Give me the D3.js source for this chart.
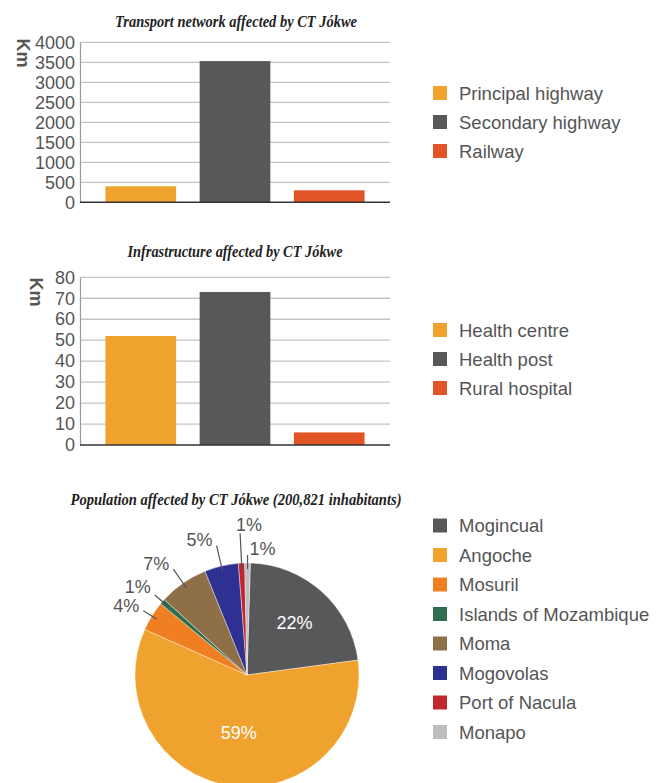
<!DOCTYPE html>
<html>
<head>
<meta charset="utf-8">
<script src="https://cdn.jsdelivr.net/npm/d3@7"></script>
<style>
  html, body { margin: 0; padding: 0; background: #fff; }
  svg { display: block; }
  text { font-family: "Liberation Sans", Arial, sans-serif; }
  .title { font-family: "Liberation Serif", "Times New Roman", serif; font-style: italic; font-weight: bold; fill: #222; }
</style>
</head>
<body>
<svg id="chart" width="666" height="783"></svg>
<script>
// ---------- DATA ----------
const transportCategories = ["Principal highway", "Secondary highway", "Railway"];
const transportValues = [400, 3530, 300];
const transportTicks = [0, 500, 1000, 1500, 2000, 2500, 3000, 3500, 4000];

const infraCategories = ["Health centre", "Health post", "Rural hospital"];
const infraValues = [52, 73, 6];
const infraTicks = [0, 10, 20, 30, 40, 50, 60, 70, 80];

const barColors = ["#f0a22e", "#58585a", "#e05426"];

const districts = ["Mogincual", "Angoche", "Mosuril", "Islands of Mozambique", "Moma", "Mogovolas", "Port of Nacula", "Monapo"];
const districtShares = [22.4, 58.8, 4.3, 0.8, 7.1, 4.9, 0.9, 0.8];
const districtColors = ["#58585a", "#f0a22e", "#f07f22", "#2f6e4c", "#8f6f47", "#2e3192", "#c1272d", "#bcbec0"];

const titles = [
  "Transport network affected by CT Jókwe",
  "Infrastructure affected by CT Jókwe",
  "Population affected by CT Jókwe (200,821 inhabitants)"
];
const yAxisLabel = "Km";

// ---------- DRAW ----------
const svg = d3.select("#chart");
const textGrey = "#555";

function title(txt, cx, y, len) {
  svg.append("text").attr("class", "title")
    .attr("x", cx).attr("y", y).attr("text-anchor", "middle")
    .attr("font-size", 17)
    .attr("textLength", len).attr("lengthAdjust", "spacingAndGlyphs")
    .text(txt);
}

function barChart(opts) {
  const x = d3.scaleBand().domain(opts.categories).range([80, 390])
    .paddingInner(0.25).paddingOuter(0.27);
  const y = d3.scaleLinear().domain([0, opts.ticks[opts.ticks.length - 1]]).range([opts.bottom, opts.top]);
  const g = svg.append("g");

  // gridlines
  g.selectAll("line.grid").data(opts.ticks.slice(1)).join("line")
    .attr("x1", 80).attr("x2", 390)
    .attr("y1", d => y(d)).attr("y2", d => y(d))
    .attr("stroke", "#c4c4c4").attr("stroke-width", 1.3);

  // y axis
  const ax = g.append("g").attr("transform", "translate(80,0)")
    .call(d3.axisLeft(y).tickValues(opts.ticks).tickSize(0).tickPadding(5).tickFormat(d3.format("d")));
  ax.select(".domain").attr("stroke", "#9a9a9a").attr("stroke-width", 1.2);
  ax.selectAll("text").attr("font-size", 18).attr("fill", textGrey)
    .attr("font-family", "Liberation Sans, Arial, sans-serif");

  // bars
  g.selectAll("rect.bar").data(opts.values).join("rect")
    .attr("x", (d, i) => x(opts.categories[i]))
    .attr("width", x.bandwidth())
    .attr("y", d => y(d))
    .attr("height", d => y(0) - y(d))
    .attr("fill", (d, i) => barColors[i]);

  // baseline
  g.append("line").attr("x1", 80).attr("x2", 390)
    .attr("y1", y(0)).attr("y2", y(0))
    .attr("stroke", "#333").attr("stroke-width", 1.6);

  // Km label
  g.append("text")
    .attr("transform", `translate(${opts.kmX},${opts.kmY}) rotate(90)`)
    .attr("text-anchor", "middle")
    .attr("font-size", 18).attr("font-weight", "bold").attr("fill", textGrey)
    .text(yAxisLabel);

  // legend
  const lg = g.selectAll("g.leg").data(opts.categories).join("g")
    .attr("transform", (d, i) => `translate(433,${opts.legendY + i * 29})`);
  lg.append("rect").attr("x", 0).attr("y", -7).attr("width", 14).attr("height", 14)
    .attr("fill", (d, i) => barColors[i]);
  lg.append("text").attr("x", 26).attr("y", 6.5)
    .attr("font-size", 18.5).attr("fill", textGrey).text(d => d);
}

title(titles[0], 236, 27, 242);
barChart({ categories: transportCategories, values: transportValues, ticks: transportTicks,
  top: 42.3, bottom: 202.3, kmX: 17, kmY: 53, legendY: 93 });

title(titles[1], 235, 257, 215);
barChart({ categories: infraCategories, values: infraValues, ticks: infraTicks,
  top: 277.3, bottom: 445, kmX: 30, kmY: 292, legendY: 330 });

title(titles[2], 236, 505, 331);

// ---------- PIE ----------
const cx = 247, cy = 675, R = 112;
const pie = d3.pie().sort(null).value(d => d)
  .startAngle(0.03).endAngle(0.03 + 2 * Math.PI);
const arcs = pie(districtShares);
const arc = d3.arc().innerRadius(0).outerRadius(R);
const pg = svg.append("g").attr("transform", `translate(${cx},${cy})`);

pg.selectAll("path").data(arcs).join("path")
  .attr("d", arc)
  .attr("fill", (d, i) => districtColors[i])
  .attr("stroke", "#fff").attr("stroke-width", 0.4);

// label layout (not data): inside radius or leader outer radius + anchor
const labelLayout = [
  { inside: 71 },
  { inside: 58 },
  { lead: 122, anchor: "end", dx: -4, dy: 1 },
  { lead: 122, anchor: "end", dx: -4, dy: -2 },
  { lead: 129, anchor: "end", dx: -4, dy: 1 },
  { lead: 133, anchor: "end", dx: -4, dy: 0 },
  { lead: 142, anchor: "middle", dx: 9, dy: -2 },
  { lead: 120, anchor: "start", dx: 2, dy: 0 }
];
const pct = v => Math.round(v) + "%";
const polar = (a, r) => [r * Math.sin(a), -r * Math.cos(a)];

arcs.forEach((a, i) => {
  const L = labelLayout[i];
  const mid = (a.startAngle + a.endAngle) / 2;
  if (L.inside) {
    const [x, y] = polar(mid, L.inside);
    pg.append("text").attr("x", x).attr("y", y + 6.5).attr("text-anchor", "middle")
      .attr("font-size", 18).attr("fill", "#fff").text(pct(a.data));
  } else {
    const [x1, y1] = polar(mid, 106);
    const [x2, y2] = polar(mid, L.lead);
    pg.append("line").attr("x1", x1).attr("y1", y1).attr("x2", x2).attr("y2", y2)
      .attr("stroke", textGrey).attr("stroke-width", 1.2);
    pg.append("text").attr("x", x2 + L.dx).attr("y", y2 + L.dy)
      .attr("text-anchor", L.anchor)
      .attr("font-size", 18).attr("fill", textGrey).text(pct(a.data));
  }
});

// pie legend
const pl = svg.append("g").selectAll("g").data(districts).join("g")
  .attr("transform", (d, i) => `translate(433,${525.5 + i * 29.5})`);
pl.append("rect").attr("x", 0).attr("y", -7).attr("width", 14).attr("height", 14)
  .attr("fill", (d, i) => districtColors[i]);
pl.append("text").attr("x", 26).attr("y", 6.5)
  .attr("font-size", 18.5).attr("fill", textGrey).text(d => d);
</script>
</body>
</html>
